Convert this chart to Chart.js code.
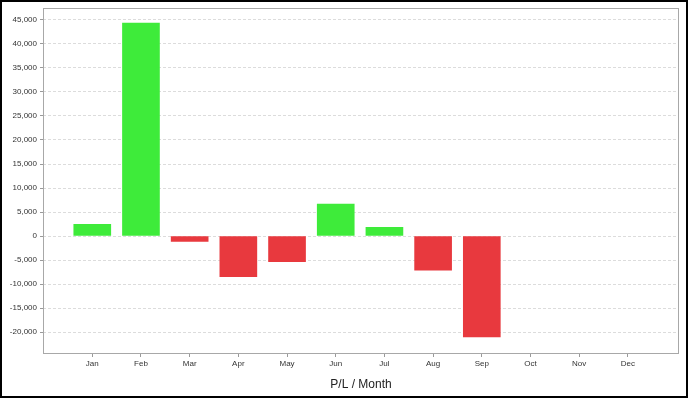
<!DOCTYPE html>
<html>
<head>
<meta charset="utf-8">
<script src="https://cdn.jsdelivr.net/npm/chart.js@4/dist/chart.umd.min.js"></script>
<style>
  html, body { margin: 0; padding: 0; background: #fff; }
  canvas { display: block; }
</style>
</head>
<body>
<canvas id="c" width="688" height="398"></canvas>
<script>
// ---- data ----
const months = ['Jan','Feb','Mar','Apr','May','Jun','Jul','Aug','Sep','Oct','Nov','Dec'];
const profitLoss = [2430, 44360, -1100, -8460, -5340, 6650, 1800, -7140, -21000, null, null, null];
const yTickValues = [-20000,-15000,-10000,-5000,0,5000,10000,15000,20000,25000,30000,35000,40000,45000];
const axisTitle = 'P/L / Month';

const GREEN = 'rgb(62,235,58)';
const RED = 'rgb(232,57,62)';

const points = months.map((m, i) => ({ x: i, y: profitLoss[i] }));

const frame = {
  id: 'frame',
  beforeDraw(chart) {
    const ctx = chart.ctx;
    ctx.save();
    ctx.fillStyle = '#fff';
    ctx.fillRect(0, 0, chart.width, chart.height);
    ctx.restore();
  },
  afterDraw(chart) {
    const ctx = chart.ctx;
    const a = chart.chartArea;
    ctx.save();
    ctx.strokeStyle = '#a8a8a8';
    ctx.lineWidth = 1;
    ctx.strokeRect(Math.round(a.left) + 0.5, Math.round(a.top) + 0.5,
                   Math.round(a.right - a.left) - 1, Math.round(a.bottom - a.top));
    ctx.strokeStyle = '#000';
    ctx.lineWidth = 2;
    ctx.strokeRect(1, 1, chart.width - 2, chart.height - 2);
    ctx.restore();
  }
};

new Chart(document.getElementById('c'), {
  type: 'bar',
  data: {
    datasets: [{
      data: points,
      backgroundColor: profitLoss.map(v => (v !== null && v < 0) ? RED : GREEN),
      borderWidth: 0,
      barThickness: 37
    }]
  },
  options: {
    responsive: false,
    animation: false,
    devicePixelRatio: 1,
    layout: { padding: { left: 0, top: 7, right: 9, bottom: 0 } },
    plugins: { legend: { display: false }, tooltip: { enabled: false } },
    scales: {
      x: {
        type: 'linear',
        offset: false,
        min: -1.012,
        max: 12.05,
        afterFit(scale) { scale.height = 45; },
        afterBuildTicks(scale) { scale.ticks = months.map((m, i) => ({ value: i })); },
        ticks: {
          autoSkip: false,
          maxRotation: 0,
          padding: 2,
          color: '#333',
          font: { family: 'Liberation Sans', size: 8 },
          callback: (v) => months[v]
        },
        grid: {
          offset: false,
          drawOnChartArea: false,
          drawTicks: true,
          tickLength: 4,
          tickColor: '#9a9a9a'
        },
        border: { display: false },
        title: {
          display: true,
          text: axisTitle,
          color: '#222',
          font: { family: 'Liberation Sans', size: 12 },
          padding: { top: 0, bottom: 6 }
        }
      },
      y: {
        min: -24368,
        max: 47537,
        afterFit(scale) { scale.width = 43; },
        afterBuildTicks(scale) { scale.ticks = yTickValues.map(v => ({ value: v })); },
        ticks: {
          padding: 3,
          color: '#333',
          font: { family: 'Liberation Sans', size: 8 },
          callback: (v) => v.toLocaleString('en-US')
        },
        grid: {
          color: '#dcdcdc',
          tickColor: '#9a9a9a',
          tickLength: 3,
          drawTicks: true
        },
        border: { display: false, dash: [3, 2] }
      }
    }
  },
  plugins: [frame]
});
</script>
</body>
</html>
